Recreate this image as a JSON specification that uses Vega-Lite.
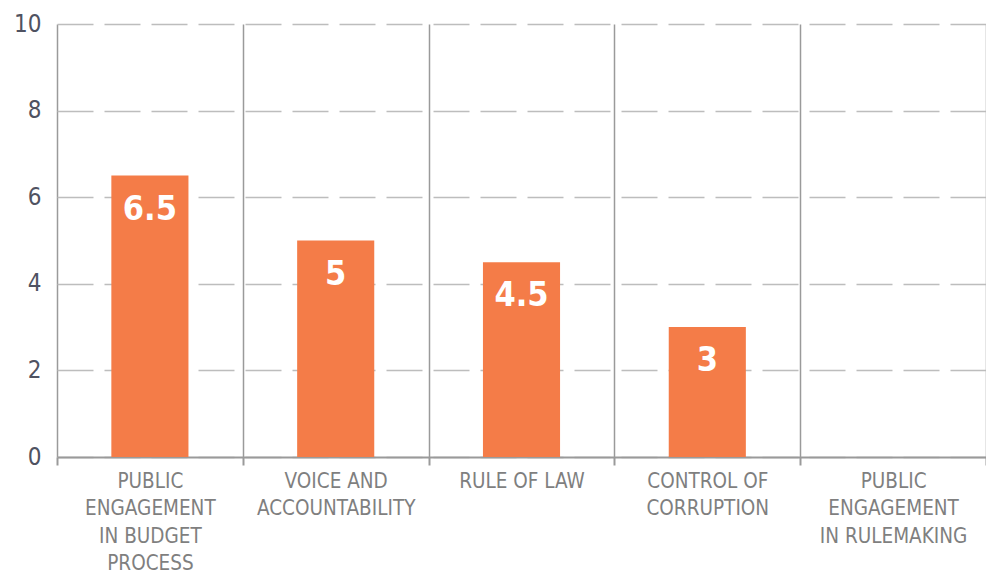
{
  "$schema": "https://vega.github.io/schema/vega-lite/v6.json",
  "autosize": {"type": "none"},
  "padding": {"left": 57, "top": 24, "right": 0, "bottom": 117},
  "width": 929,
  "height": 433,
  "background": "white",
  "config": {"view": {"stroke": null}},
  "data": {
    "values": [
      {"category": "PUBLIC ENGAGEMENT IN BUDGET PROCESS", "value": 6.5},
      {"category": "VOICE AND ACCOUNTABILITY", "value": 5},
      {"category": "RULE OF LAW", "value": 4.5},
      {"category": "CONTROL OF CORRUPTION", "value": 3},
      {"category": "PUBLIC ENGAGEMENT IN RULEMAKING", "value": null}
    ]
  },
  "encoding": {
    "x": {
      "field": "category",
      "type": "nominal",
      "sort": null,
      "scale": {
        "domain": ["PUBLIC ENGAGEMENT IN BUDGET PROCESS", "VOICE AND ACCOUNTABILITY", "RULE OF LAW", "CONTROL OF CORRUPTION", "PUBLIC ENGAGEMENT IN RULEMAKING"],
        "paddingInner": 0,
        "paddingOuter": 0
      },
      "axis": {
        "title": null,
        "labelAngle": 0,
        "tickBand": "extent",
        "grid": true,
        "gridColor": "#9a9a9a",
        "gridWidth": 1.5,
        "domainColor": "#9a9a9a",
        "domainWidth": 2,
        "tickColor": "#9a9a9a",
        "tickWidth": 2,
        "tickSize": 8,
        "labelFont": "DejaVu Sans Condensed, Roboto, sans-serif",
        "labelFontSize": 20.5,
        "labelColor": "#7f7f7f",
        "labelLineHeight": 27.5,
        "labelPadding": 6,
        "labelLimit": 0,
        "labelBaseline": "top",
        "labelExpr": "datum.label == 'PUBLIC ENGAGEMENT IN BUDGET PROCESS' ? ['PUBLIC','ENGAGEMENT','IN BUDGET','PROCESS'] : datum.label == 'VOICE AND ACCOUNTABILITY' ? ['VOICE AND','ACCOUNTABILITY'] : datum.label == 'CONTROL OF CORRUPTION' ? ['CONTROL OF','CORRUPTION'] : datum.label == 'PUBLIC ENGAGEMENT IN RULEMAKING' ? ['PUBLIC','ENGAGEMENT','IN RULEMAKING'] : datum.label"
      }
    },
    "y": {
      "field": "value",
      "type": "quantitative",
      "scale": {"domain": [0, 10], "nice": false},
      "axis": {
        "title": null,
        "values": [0, 2, 4, 6, 8, 10],
        "domain": false,
        "ticks": false,
        "grid": true,
        "gridColor": "#bdbdbd",
        "gridWidth": 1.5,
        "gridDash": [36, 11],
        "labelFont": "DejaVu Sans Condensed, Roboto, sans-serif",
        "labelFontSize": 24,
        "labelColor": "#4f5261",
        "labelPadding": 16
      }
    }
  },
  "layer": [
    {
      "mark": {"type": "bar", "color": "#F47C48", "width": {"band": 0.415}}
    },
    {
      "mark": {
        "type": "text",
        "color": "white",
        "font": "DejaVu Sans Condensed, Roboto, sans-serif",
        "fontWeight": "bold",
        "fontSize": 34,
        "baseline": "alphabetic",
        "align": "center",
        "dy": 44
      },
      "encoding": {"text": {"field": "value", "type": "quantitative"}}
    }
  ]
}
